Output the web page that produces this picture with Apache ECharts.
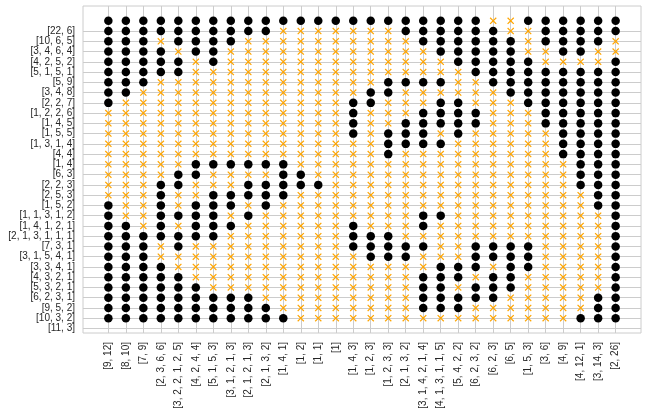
<!DOCTYPE html>
<html><head><meta charset="utf-8">
<script src="https://cdn.jsdelivr.net/npm/echarts@6/dist/echarts.min.js"></script>
<style>html,body{margin:0;padding:0;background:#fff}#c{width:648px;height:416px}</style>
</head><body><div id="c"></div>
<script>
const colLabels = ['[9, 12]','[8, 10]','[7, 9]','[2, 3, 6, 6]','[3, 2, 2, 1, 2, 5]','[4, 2, 4, 4]','[5, 1, 5, 3]','[3, 1, 2, 1, 3]','[2, 1, 2, 1, 3]','[2, 1, 3, 2]','[1, 4, 1]','[1, 2]','[1, 1]','[1]','[1, 4, 3]','[1, 2, 3]','[1, 2, 3, 3]','[2, 1, 3, 2]','[3, 1, 4, 2, 1, 4]','[4, 1, 3, 1, 1, 5]','[5, 4, 2, 2]','[6, 2, 3, 2]','[6, 2, 3]','[6, 5]','[1, 5, 3]','[3, 6]','[4, 9]','[4, 12, 1]','[3, 14, 3]','[2, 26]'];
const rowLabels = ['[22, 6]','[10, 6, 5]','[3, 4, 6, 4]','[4, 2, 5, 2]','[5, 1, 5, 1]','[5, 9]','[3, 4, 8]','[2, 2, 7]','[1, 2, 2, 6]','[1, 4, 5]','[1, 5, 5]','[1, 3, 1, 4]','[4, 4]','[1, 4]','[6, 3]','[2, 2, 3]','[2, 5, 3]','[1, 5, 2]','[1, 1, 3, 1, 2]','[1, 4, 1, 2, 1]','[2, 1, 3, 1, 1, 1]','[7, 3, 1]','[3, 1, 5, 4, 1]','[3, 3, 4, 1]','[4, 3, 2, 1]','[5, 3, 2, 1]','[6, 2, 3, 1]','[9, 5, 2]','[10, 3, 2]','[11, 3]'];
// filled cell runs per row (1-based column ranges), top row first
const filledRuns = [
 [[1,22],[25,30]],
 [[1,10],[18,23],[26,30]],
 [[1,3],[5,8],[19,24],[26,29]],
 [[1,4],[6,7],[20,24],[27,28]],
 [[1,5],[7,7],[21,25],[30,30]],
 [[1,5],[22,30]],
 [[1,3],[17,20],[23,30]],
 [[1,2],[16,17],[24,30]],
 [[1,1],[15,16],[20,21],[25,30]],
 [[15,15],[19,22],[26,30]],
 [[15,15],[18,22],[26,30]],
 [[15,15],[17,19],[21,21],[27,30]],
 [[17,20],[27,30]],
 [[17,17],[27,30]],
 [[6,11],[28,30]],
 [[5,6],[11,12],[28,30]],
 [[4,5],[9,13],[28,30]],
 [[4,4],[7,11],[29,30]],
 [[1,1],[4,4],[6,8],[10,10],[29,30]],
 [[1,1],[4,7],[9,9],[19,20],[30,30]],
 [[1,2],[4,4],[6,8],[15,15],[19,19],[30,30]],
 [[1,7],[15,17],[30,30]],
 [[1,3],[5,5],[15,19],[22,25],[30,30]],
 [[1,3],[16,18],[22,25],[30,30]],
 [[1,4],[20,22],[24,25],[30,30]],
 [[1,5],[19,21],[23,24],[30,30]],
 [[1,6],[19,20],[22,24],[30,30]],
 [[1,9],[19,23],[29,30]],
 [[1,10],[19,21],[29,30]],
 [[1,11],[28,30]]
];
const nCols = colLabels.length;
const filled = [], empty = [];
filledRuns.forEach((runs, r) => {
  const row = new Array(nCols).fill(false);
  runs.forEach(([a, b]) => { for (let c = a; c <= b; c++) row[c - 1] = true; });
  row.forEach((f, c) => (f ? filled : empty).push([c, r]));
});
const xTicks = colLabels.map((_, i) => i);
const yTicks = rowLabels.map((_, i) => i + 1);
const xPath = 'path://M0,1.2L1.2,0L5,3.8L8.8,0L10,1.2L6.2,5L10,8.8L8.8,10L5,6.2L1.2,10L0,8.8L3.8,5Z';
const font = "'Liberation Sans', Arial, sans-serif";
const chart = echarts.init(document.getElementById('c'), null, {renderer: 'canvas'});
chart.setOption({
  animation: false,
  backgroundColor: '#ffffff',
  grid: {left: 83, right: 7, top: 6, bottom: 83, show: true, borderColor: '#cccccc', borderWidth: 1},
  xAxis: {
    type: 'value', min: -1.45, max: 30.45,
    axisLine: {show: false},
    axisTick: {show: false, customValues: xTicks},
    axisLabel: {customValues: xTicks, rotate: 90, formatter: v => colLabels[v], fontSize: 10, color: '#262626', fontFamily: font, margin: 9},
    splitLine: {show: true, lineStyle: {color: '#cccccc', width: 1}}
  },
  yAxis: {
    type: 'value', inverse: true, min: -1.45, max: 30.45,
    axisLine: {show: false},
    axisTick: {show: false, customValues: yTicks},
    axisLabel: {customValues: yTicks, formatter: v => rowLabels[v - 1], fontSize: 10, color: '#262626', fontFamily: font, margin: 8},
    splitLine: {show: true, lineStyle: {color: '#cccccc', width: 1}}
  },
  series: [
    {type: 'scatter', data: empty, symbol: xPath, symbolSize: 7, itemStyle: {color: '#FFA500', opacity: 1}, z: 3},
    {type: 'scatter', data: filled, symbol: 'circle', symbolSize: 8.5, itemStyle: {color: '#000000', opacity: 1}, z: 4}
  ]
});
</script></body></html>
